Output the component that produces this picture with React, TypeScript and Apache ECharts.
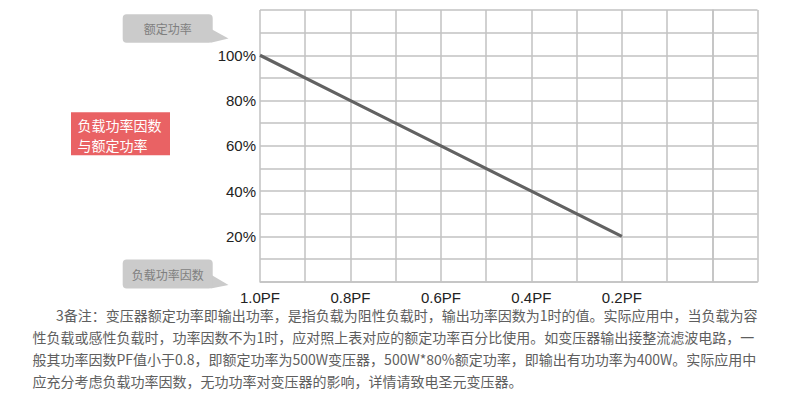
import React, { useEffect, useRef } from "react";
import * as echarts from "echarts";

const powerFactors = [1.0, 0.8, 0.6, 0.4, 0.2];
const ratedPower = [100, 80, 60, 40, 20];
const yTickLabels = [20, 40, 60, 80, 100];
const xTickLabels = [1.0, 0.8, 0.6, 0.4, 0.2];
const boxTitleLines = ["负载功率因数", "与额定功率"];
const bubbleY = "额定功率";
const bubbleX = "负载功率因数";
const noteLines = [
  "3备注：变压器额定功率即输出功率，是指负载为阻性负载时，输出功率因数为1时的值。实际应用中，当负载为容",
  "性负载或感性负载时，功率因数不为1时，应对照上表对应的额定功率百分比使用。如变压器输出接整流滤波电路，一",
  "般其功率因数PF值小于0.8，即额定功率为500W变压器，500W*80%额定功率，即输出有功功率为400W。实际应用中",
  "应充分考虑负载功率因数，无功功率对变压器的影响，详情请致电圣元变压器。",
];

const CJK = '"Noto Sans CJK SC", "Noto Sans", sans-serif';
const LATIN = '"Liberation Sans", Arial, sans-serif';

function bubble(text: string, x: number, y: number, w: number, h: number, tipX: number, tipY: number) {
  return {
    type: "group",
    children: [
      {
        type: "polygon",
        shape: { points: [[x + w - 2, y + h - 14], [tipX, tipY], [x + w - 2, y + h]] },
        style: { fill: "#cbcbcb" },
      },
      {
        type: "rect",
        shape: { x, y, width: w, height: h, r: 4 },
        style: { fill: "#cbcbcb" },
      },
      {
        type: "text",
        x: x + w / 2,
        y: y + h / 2,
        style: {
          text,
          fill: "#7f7f7f",
          font: `12px ${CJK}`,
          align: "center",
          verticalAlign: "middle",
        },
      },
    ],
  };
}

export default function App() {
  const ref = useRef<HTMLDivElement>(null);
  useEffect(() => {
    document.body.style.margin = "0";
    if (!ref.current) return;
    const chart = echarts.init(ref.current, undefined, { renderer: "svg" });
    const lineData = powerFactors.map((pf, i) => [pf, ratedPower[i]]);
    const gridColor = "#c2c2c2";
    chart.setOption({
      animation: false,
      backgroundColor: "#ffffff",
      grid: { left: 260, top: 10, right: 32.5, bottom: 124.3, containLabel: false },
      xAxis: {
        type: "value",
        inverse: true,
        min: -0.1,
        max: 1.0,
        interval: 0.1,
        axisLine: { show: true, lineStyle: { color: gridColor, width: 1.5 } },
        axisTick: { show: false },
        splitLine: { show: true, lineStyle: { color: gridColor, width: 1.5 } },
        axisLabel: {
          show: true,
          showMaxLabel: true,
          showMinLabel: true,
          margin: 8,
          color: "#222",
          fontSize: 15,
          fontFamily: LATIN,
          formatter: (v: number) => {
            const t = Math.round(v * 10);
            const hit = xTickLabels.find((p) => Math.round(p * 10) === t);
            return hit !== undefined ? `${hit.toFixed(1)}PF` : "";
          },
        },
      },
      yAxis: {
        type: "value",
        min: 0,
        max: 120,
        interval: 10,
        axisLine: { show: true, lineStyle: { color: gridColor, width: 1.5 } },
        axisTick: { show: false },
        splitLine: { show: true, lineStyle: { color: gridColor, width: 1.5 } },
        axisLabel: {
          margin: 4,
          color: "#222",
          fontSize: 15,
          fontFamily: LATIN,
          formatter: (v: number) => (yTickLabels.includes(Math.round(v)) ? `${Math.round(v)}%` : ""),
        },
      },
      series: [
        {
          type: "line",
          data: lineData,
          showSymbol: false,
          symbol: "none",
          lineStyle: { color: "#626262", width: 3.2 },
          z: 5,
        },
      ],
      graphic: [
        bubble(bubbleY, 122.7, 14.3, 90, 28.5, 228.5, 38.5),
        bubble(bubbleX, 122.7, 259.5, 90, 29, 228.5, 285),
        {
          type: "rect",
          shape: { x: 71, y: 112.3, width: 99, height: 43 },
          style: { fill: "#e96264" },
        },
        ...boxTitleLines.map((t, i) => ({
          type: "text",
          x: 77.5,
          y: 124.5 + i * 20,
          style: {
            text: t,
            fill: "#ffffff",
            font: `14px ${CJK}`,
            align: "left",
            verticalAlign: "middle",
          },
        })),
        ...noteLines.map((t, i) => ({
          type: "text",
          x: i === 0 ? 56 : 32.5,
          y: 315 + i * 22,
          style: {
            text: t,
            fill: "#5e5e5e",
            font: `14px ${CJK}`,
            align: "left",
            verticalAlign: "middle",
          },
        })),
      ],
    });
    return () => chart.dispose();
  }, []);
  return (
    <div
      ref={ref}
      style={{ width: 790, height: 406, position: "absolute", left: 0, top: 0 }}
    />
  );
}
